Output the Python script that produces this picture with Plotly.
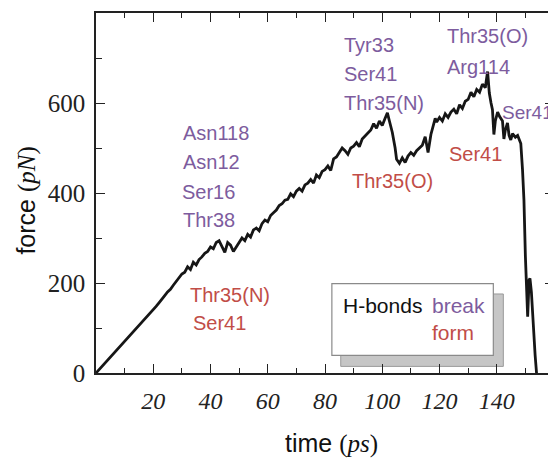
import plotly.graph_objects as go

# ---- data ----
time_ps = [0, 1, 2, 3, 4, 5, 6, 7, 8, 9, 10, 11, 12, 13, 14, 15, 16, 17, 18, 19,
           20, 21, 22, 23, 24, 25, 26, 27, 28, 29, 30, 31, 32, 33, 34, 35, 36, 37, 38, 39,
           40, 41, 42, 43, 44, 45, 46, 47, 48, 49, 50, 51, 52, 53, 54, 55, 56, 57, 58, 59,
           60, 61, 62, 63, 64, 65, 66, 67, 68, 69, 70, 71, 72, 73, 74, 75, 76, 77, 78, 79,
           80, 81, 82, 83, 84, 85, 86, 87, 88, 89, 90, 91, 92, 93, 94, 95, 96, 97, 98, 99,
           100, 101, 101.8, 102.5, 103.5, 104.5, 105, 106, 107, 108, 109, 110, 111, 112,
           113, 114, 115, 116, 117, 118, 118.5, 119, 120, 121, 122, 123, 124, 125, 126,
           127, 128, 129, 130, 131, 132, 133, 134, 135, 136, 136.8, 137.4, 138, 138.5,
           139, 139.5, 140.3, 141, 142, 142.5, 143, 143.75, 144.3, 144.9, 145.5, 146.5,
           147.3, 147.8, 148.4, 149, 149.5, 150, 150.5, 150.8, 151.3, 151.6, 152.1,
           152.8, 153.4, 153.9]
force_pN = [0, 7, 14, 21, 27, 35, 42, 49, 55, 63, 70, 77, 84, 90, 98, 105, 112, 119, 126, 133,
            141, 148, 156, 163, 172, 180, 186, 195, 203, 210, 220, 224, 236, 230, 246, 240, 252, 258, 266, 270,
            280, 276, 290, 294, 280, 268, 290, 284, 270, 280, 292, 300, 294, 308, 302, 318, 322, 316, 332, 340,
            336, 350, 356, 362, 372, 376, 384, 386, 398, 392, 404, 410, 404, 418, 422, 430, 422, 440, 434, 448,
            452, 460, 450, 476, 480, 490, 500, 494, 486, 500, 504, 512, 503, 520, 526, 534, 540, 554, 544, 560,
            550, 566, 578, 560, 535, 500, 475, 466, 478, 468, 482, 490, 484, 494,
            500, 506, 525, 490, 530, 555, 566, 558, 568, 560, 576, 568, 580, 586, 576,
            596, 588, 604, 608, 624, 614, 630, 624, 642, 634, 670, 622, 600, 585,
            530, 560, 580, 570, 560, 520, 540, 556, 528, 518, 532, 524,
            528, 520, 510, 452, 385, 260, 140, 125, 207, 210, 180,
            90, 40, 0]

x_ticks = [20, 40, 60, 80, 100, 120, 140]
y_ticks = [0, 200, 400, 600]

# H-bond labels
break_labels = ["Asn118", "Asn12", "Ser16", "Thr38", "Tyr33", "Ser41", "Thr35(N)",
                "Thr35(O)", "Arg114", "Ser41"]
break_pos = [(29.7, 533), (29.7, 468), (29.4, 403), (29.8, 340), (86.0, 730), (86.0, 664),
             (86.0, 600), (122.0, 750), (121.8, 681), (141.0, 578)]
form_labels = ["Thr35(N)", "Ser41", "Thr35(O)", "Ser41"]
form_pos = [(32.0, 174), (33.2, 111), (88.8, 426), (122.7, 487)]

PURPLE = "#7D5C9E"
RED = "#C14D47"
SANS = "Liberation Sans, Arial, sans-serif"
SERIF = "Liberation Serif, Times New Roman, serif"

fig = go.Figure()
fig.add_trace(go.Scatter(x=time_ps, y=force_pN, mode="lines",
                         line=dict(color="#161616", width=2.8), showlegend=False,
                         hoverinfo="skip"))

annotations = []
for i, (txt, (ax, ay)) in enumerate(zip(break_labels, break_pos)):
    size = 19 if i == len(break_labels) - 1 else 20
    annotations.append(dict(x=ax, y=ay, xref="x", yref="y", text=txt, showarrow=False,
                            xanchor="left", yanchor="middle",
                            font=dict(family=SANS, size=size, color=PURPLE)))
for txt, (ax, ay) in zip(form_labels, form_pos):
    annotations.append(dict(x=ax, y=ay, xref="x", yref="y", text=txt, showarrow=False,
                            xanchor="left", yanchor="middle",
                            font=dict(family=SANS, size=20, color=RED)))

# legend box text
annotations += [
    dict(x=85.5, y=149, xref="x", yref="y", text="H-bonds", showarrow=False,
         xanchor="left", yanchor="middle", font=dict(family=SANS, size=21, color="#111")),
    dict(x=116.6, y=149, xref="x", yref="y", text="break", showarrow=False,
         xanchor="left", yanchor="middle", font=dict(family=SANS, size=21, color=PURPLE)),
    dict(x=116.6, y=90, xref="x", yref="y", text="form", showarrow=False,
         xanchor="left", yanchor="middle", font=dict(family=SANS, size=21, color=RED)),
]

# axis titles
annotations += [
    dict(x=-0.152, y=0.48, xref="paper", yref="paper", textangle=-90, showarrow=False,
         xanchor="center", yanchor="middle",
         text="force <span style='font-family:Liberation Serif'>(<i>pN</i>)</span>",
         font=dict(family=SANS, size=25, color="#111")),
    dict(x=0.515, y=-0.196, xref="paper", yref="paper", showarrow=False,
         xanchor="center", yanchor="middle",
         text="time <span style='font-family:Liberation Serif'>(<i>ps</i>)</span>",
         font=dict(family=SANS, size=25, color="#111")),
]

shapes = [
    dict(type="rect", xref="x", yref="y", x0=85.5, x1=142.3, y0=14.7, y1=175.6,
         fillcolor="#C6C6C6", line=dict(color="#9a9a9a", width=1), layer="below"),
    dict(type="rect", xref="x", yref="y", x0=82.4, x1=138.8, y0=39.1, y1=198.4,
         fillcolor="white", line=dict(color="#8a8a8a", width=1.2), layer="below"),
]

# page body has an 8px margin, so the figure is sized/offset to compensate
fig.update_layout(
    width=548, height=454,
    margin=dict(l=88, r=0, t=5, b=89),
    paper_bgcolor="white", plot_bgcolor="white",
    annotations=annotations, shapes=shapes,
    xaxis=dict(range=[0, 160], tickvals=x_ticks, ticktext=[str(v) for v in x_ticks],
               ticks="inside", ticklen=9, tickwidth=1.2, tickcolor="#222",
               showline=True, linecolor="#222", linewidth=1.5, mirror="ticks",
               showgrid=False, zeroline=False, ticklabelstandoff=5,
               tickfont=dict(family=SERIF, size=24, color="#222", style="italic"),
               minor=dict(dtick=10, tick0=0, ticks="inside", ticklen=5, tickcolor="#222",
                          showgrid=False)),
    yaxis=dict(range=[0, 800], tickvals=y_ticks, ticktext=[str(v) for v in y_ticks],
               ticks="inside", ticklen=9, tickwidth=1.2, tickcolor="#222",
               showline=True, linecolor="#222", linewidth=1.5, mirror="ticks",
               showgrid=False, zeroline=False, ticklabelstandoff=4,
               tickfont=dict(family=SERIF, size=25, color="#222"),
               minor=dict(dtick=100, tick0=0, ticks="inside", ticklen=6, tickcolor="#222",
                          showgrid=False)),
)

fig.write_html("out.html")
